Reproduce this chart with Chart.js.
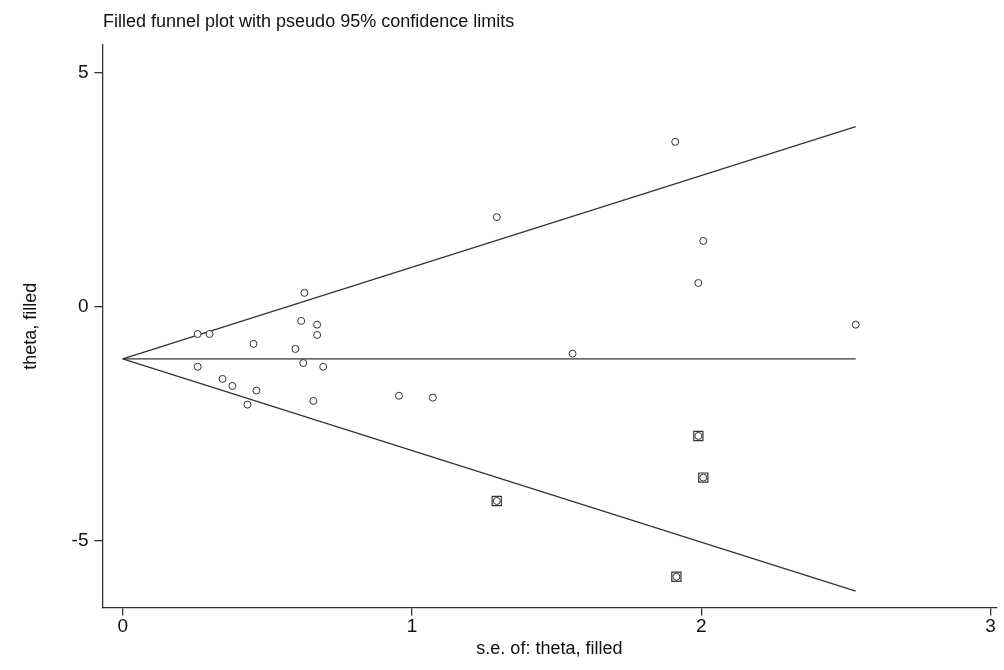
<!DOCTYPE html>
<html><head><meta charset="utf-8">
<script src="https://cdn.jsdelivr.net/npm/chart.js@4"></script>
<style>body{margin:0;background:#fff}#wrap{position:relative;width:1004px;height:670px}
#ttl{position:absolute;left:103px;top:11px;font:18px "Liberation Sans",sans-serif;color:#111}</style>
</head><body><div id="wrap"><div id="ttl">Filled funnel plot with pseudo 95% confidence limits</div><canvas id="c"></canvas></div>
<script>
const seObserved = [0.259,0.30,0.259,0.345,0.379,0.431,0.452,0.462,0.597,0.617,0.628,0.624,0.672,0.672,0.693,0.659,0.955,1.072,1.293,1.555,2.534,1.910,1.990,2.007]
const thetaObserved = [-0.58,-0.58,-1.28,-1.54,-1.69,-2.09,-0.79,-1.79,-0.90,-0.30,0.30,-1.20,-0.38,-0.60,-1.28,-2.01,-1.90,-1.94,1.92,-1.00,-0.38,3.53,0.51,1.41]
const seFilled = [1.293,1.990,2.007,1.914]
const thetaFilled = [-4.15,-2.76,-3.65,-5.77]
const pooled = -1.11
const seMax = 2.534
const yTicks = [-5,0,5]
const xTicks = [0,1,2,3]

const pts = (xs, ys) => xs.map((x, i) => ({x: x, y: ys[i]}))
const lineStyle = {type: 'line', showLine: true, borderColor: '#333', borderWidth: 1.3, pointRadius: 0, fill: false, order: 5}

new Chart(document.getElementById('c'), {
    type: 'scatter',
    data: {
        datasets: [
            {...lineStyle, data: [{x: 0, y: pooled}, {x: seMax, y: pooled + 1.96 * seMax}]},
            {...lineStyle, data: [{x: 0, y: pooled}, {x: seMax, y: pooled}]},
            {...lineStyle, data: [{x: 0, y: pooled}, {x: seMax, y: pooled - 1.96 * seMax}]},
            {data: pts(seObserved, thetaObserved), order: 3, pointStyle: 'circle', pointRadius: 3.5, borderColor: '#333', borderWidth: 1, backgroundColor: '#fff'},
            {data: pts(seFilled, thetaFilled), order: 2, pointStyle: 'rect', pointRadius: 6.5, borderColor: '#333', borderWidth: 1.2, backgroundColor: '#fff'},
            {data: pts(seFilled, thetaFilled), order: 1, pointStyle: 'circle', pointRadius: 3.5, borderColor: '#333', borderWidth: 1, backgroundColor: '#fff'}
        ]
    },
    options: {
        responsive: true, maintainAspectRatio: false, animation: false,
        layout: {padding: {top: 45, right: 6, left: 16, bottom: 6}},
        plugins: {legend: {display: false}, tooltip: {enabled: false}},
        scales: {
            x: {min: -0.07, max: 3.02,
                afterBuildTicks: s => { s.ticks = xTicks.map(v => ({value: v})) },
                grid: {drawOnChartArea: false, tickLength: 8, color: '#333', lineWidth: 1.3},
                border: {color: '#333', width: 1.3},
                ticks: {color: '#111', font: {family: 'Liberation Sans', size: 19}, padding: 0, maxRotation: 0},
                title: {display: true, text: 's.e. of: theta, filled', color: '#111', font: {family: 'Liberation Sans', size: 18}, padding: {top: 0}}
            },
            y: {min: -6.43, max: 5.6,
                afterBuildTicks: s => { s.ticks = yTicks.map(v => ({value: v})) },
                grid: {drawOnChartArea: false, tickLength: 8, color: '#333', lineWidth: 1.3},
                border: {color: '#333', width: 1.3},
                ticks: {color: '#111', font: {family: 'Liberation Sans', size: 19}, padding: 6},
                title: {display: true, text: 'theta, filled', color: '#111', font: {family: 'Liberation Sans', size: 18}, padding: {bottom: 24}}
            }
        }
    }
})
</script></body></html>
